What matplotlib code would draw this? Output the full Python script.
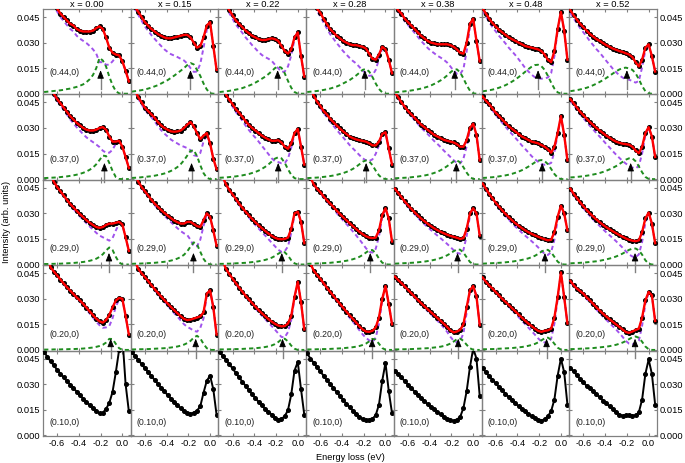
import numpy as np
from matplotlib import pyplot as plt

plt.rcParams['font.family'] = ['Liberation Sans', 'DejaVu Sans']

# energy loss grid (eV)
energy = [-0.72, -0.69, -0.66, -0.63, -0.60, -0.57, -0.54, -0.51, -0.48, -0.45,
          -0.42, -0.39, -0.36, -0.33, -0.30, -0.27, -0.24, -0.21, -0.18, -0.15,
          -0.12, -0.09, -0.06, -0.03, 0.00, 0.03, 0.06]

dopings = ['x = 0.00', 'x = 0.15', 'x = 0.22', 'x = 0.28', 'x = 0.38', 'x = 0.48', 'x = 0.52']
momenta = ['(0.44,0)', '(0.37,0)', '(0.29,0)', '(0.20,0)', '(0.10,0)']

# measured spectra, one list per doping
spec_044 = [
    [0.060, 0.057, 0.054, 0.052, 0.050, 0.047, 0.045, 0.043, 0.041, 0.040, 0.038, 0.037, 0.0365, 0.0365, 0.0365, 0.037, 0.0385, 0.0395, 0.038, 0.033, 0.027, 0.024, 0.023, 0.0225, 0.019, 0.0135, 0.0072],
    [0.056, 0.051, 0.048, 0.045, 0.042, 0.040, 0.038, 0.0365, 0.035, 0.034, 0.033, 0.0325, 0.0325, 0.033, 0.0335, 0.034, 0.0345, 0.0345, 0.033, 0.030, 0.027, 0.028, 0.033, 0.040, 0.042, 0.028, 0.014],
    [0.060, 0.056, 0.052, 0.049, 0.046, 0.043, 0.041, 0.039, 0.037, 0.0355, 0.034, 0.033, 0.032, 0.0315, 0.0315, 0.032, 0.0325, 0.032, 0.031, 0.028, 0.025, 0.0235, 0.026, 0.033, 0.036, 0.022, 0.010],
    [0.064, 0.059, 0.054, 0.050, 0.0475, 0.044, 0.041, 0.038, 0.036, 0.034, 0.0325, 0.031, 0.030, 0.029, 0.0285, 0.0285, 0.028, 0.0275, 0.0265, 0.0235, 0.0205, 0.020, 0.023, 0.0275, 0.026, 0.020, 0.012],
    [0.052, 0.049, 0.047, 0.044, 0.042, 0.040, 0.038, 0.036, 0.034, 0.0325, 0.031, 0.030, 0.0295, 0.029, 0.029, 0.029, 0.029, 0.0285, 0.0275, 0.026, 0.024, 0.0235, 0.030, 0.041, 0.044, 0.031, 0.019],
    [0.050, 0.047, 0.044, 0.0415, 0.0395, 0.0375, 0.036, 0.0345, 0.033, 0.032, 0.031, 0.030, 0.029, 0.028, 0.0275, 0.027, 0.0265, 0.026, 0.025, 0.023, 0.020, 0.0185, 0.025, 0.038, 0.048, 0.037, 0.020],
    [0.049, 0.046, 0.0435, 0.041, 0.039, 0.037, 0.035, 0.0335, 0.032, 0.031, 0.0297, 0.0285, 0.0275, 0.0265, 0.0258, 0.025, 0.0245, 0.0237, 0.023, 0.0215, 0.0185, 0.016, 0.020, 0.027, 0.029, 0.022, 0.013],
]
spec_037 = [
    [0.062, 0.058, 0.054, 0.050, 0.047, 0.0445, 0.042, 0.0395, 0.037, 0.035, 0.033, 0.0315, 0.030, 0.029, 0.0285, 0.0285, 0.029, 0.030, 0.0305, 0.029, 0.025, 0.022, 0.022, 0.0225, 0.019, 0.013, 0.0065],
    [0.056, 0.052, 0.048, 0.045, 0.042, 0.040, 0.038, 0.036, 0.0335, 0.0315, 0.030, 0.029, 0.028, 0.0278, 0.028, 0.0285, 0.030, 0.032, 0.0335, 0.031, 0.027, 0.0235, 0.0255, 0.027, 0.021, 0.012, 0.0058],
    [0.060, 0.055, 0.0495, 0.0465, 0.044, 0.041, 0.039, 0.0365, 0.034, 0.0318, 0.030, 0.0285, 0.027, 0.0255, 0.0243, 0.0233, 0.0225, 0.0225, 0.0228, 0.0215, 0.019, 0.0178, 0.021, 0.027, 0.0295, 0.019, 0.0085],
    [0.058, 0.053, 0.049, 0.0455, 0.043, 0.040, 0.038, 0.0355, 0.0335, 0.0315, 0.0297, 0.028, 0.0265, 0.025, 0.024, 0.0233, 0.0228, 0.0224, 0.022, 0.021, 0.0198, 0.0198, 0.022, 0.0265, 0.0275, 0.018, 0.0085],
    [0.051, 0.048, 0.045, 0.0425, 0.040, 0.038, 0.036, 0.034, 0.032, 0.0305, 0.029, 0.0275, 0.026, 0.025, 0.024, 0.023, 0.0225, 0.022, 0.0215, 0.0205, 0.019, 0.019, 0.023, 0.030, 0.0325, 0.026, 0.011],
    [0.0485, 0.046, 0.044, 0.0415, 0.039, 0.037, 0.035, 0.033, 0.031, 0.0295, 0.028, 0.0265, 0.025, 0.024, 0.023, 0.022, 0.0215, 0.021, 0.020, 0.019, 0.0175, 0.0155, 0.019, 0.027, 0.037, 0.026, 0.011],
    [0.047, 0.0445, 0.042, 0.0395, 0.0375, 0.0355, 0.0335, 0.0318, 0.030, 0.0285, 0.027, 0.0255, 0.0243, 0.023, 0.022, 0.0213, 0.0208, 0.0205, 0.0202, 0.019, 0.0168, 0.0152, 0.019, 0.027, 0.0305, 0.025, 0.013],
]
spec_029 = [
    [0.062, 0.057, 0.053, 0.0485, 0.0455, 0.043, 0.0405, 0.038, 0.0355, 0.0335, 0.0315, 0.0295, 0.0278, 0.026, 0.0245, 0.0232, 0.022, 0.0215, 0.022, 0.0232, 0.024, 0.024, 0.0245, 0.025, 0.0235, 0.016, 0.008],
    [0.057, 0.053, 0.0486, 0.0455, 0.043, 0.0405, 0.038, 0.0358, 0.0338, 0.032, 0.0303, 0.0287, 0.0272, 0.0258, 0.0248, 0.024, 0.024, 0.025, 0.025, 0.0238, 0.0225, 0.022, 0.026, 0.030, 0.028, 0.020, 0.011],
    [0.058, 0.0515, 0.047, 0.0438, 0.0412, 0.0385, 0.0358, 0.0333, 0.031, 0.0288, 0.0268, 0.0248, 0.023, 0.0213, 0.0197, 0.0182, 0.0168, 0.0157, 0.015, 0.0148, 0.015, 0.0158, 0.021, 0.030, 0.031, 0.025, 0.0125],
    [0.056, 0.051, 0.047, 0.0445, 0.0425, 0.040, 0.0378, 0.0358, 0.0338, 0.0317, 0.0297, 0.0278, 0.026, 0.0243, 0.0225, 0.0208, 0.0192, 0.0178, 0.0166, 0.0158, 0.0155, 0.0158, 0.020, 0.029, 0.033, 0.027, 0.0135],
    [0.0445, 0.042, 0.0395, 0.037, 0.0348, 0.0327, 0.0307, 0.0288, 0.027, 0.0255, 0.024, 0.0226, 0.0213, 0.0202, 0.0192, 0.0183, 0.0175, 0.0168, 0.0162, 0.0157, 0.015, 0.0155, 0.021, 0.030, 0.033, 0.030, 0.017],
    [0.0475, 0.0445, 0.0415, 0.0388, 0.0363, 0.034, 0.0318, 0.0297, 0.0278, 0.026, 0.0243, 0.0228, 0.0214, 0.0201, 0.019, 0.018, 0.0171, 0.0163, 0.0155, 0.0148, 0.0142, 0.0145, 0.019, 0.028, 0.0345, 0.030, 0.020],
    [0.0445, 0.0415, 0.039, 0.0365, 0.0342, 0.032, 0.030, 0.0281, 0.0264, 0.0248, 0.0233, 0.0219, 0.0207, 0.0195, 0.0184, 0.0173, 0.0163, 0.0153, 0.0145, 0.014, 0.0137, 0.0142, 0.019, 0.027, 0.0305, 0.024, 0.0125],
]
spec_020 = [
    [0.062, 0.055, 0.0485, 0.046, 0.0437, 0.0413, 0.039, 0.0368, 0.0348, 0.0328, 0.0308, 0.029, 0.027, 0.0248, 0.0226, 0.0204, 0.0183, 0.0168, 0.016, 0.0175, 0.0205, 0.025, 0.029, 0.0305, 0.030, 0.020, 0.009],
    [0.058, 0.052, 0.0475, 0.045, 0.0428, 0.0405, 0.038, 0.0357, 0.0335, 0.0313, 0.0292, 0.0272, 0.0252, 0.0233, 0.0215, 0.0198, 0.0182, 0.0175, 0.0178, 0.0184, 0.019, 0.0197, 0.022, 0.033, 0.035, 0.025, 0.009],
    [0.0575, 0.052, 0.0475, 0.0445, 0.0418, 0.0392, 0.0366, 0.0342, 0.0318, 0.0296, 0.0275, 0.0254, 0.0234, 0.0215, 0.0198, 0.0181, 0.0166, 0.0153, 0.0143, 0.0138, 0.014, 0.0155, 0.020, 0.031, 0.040, 0.028, 0.012],
    [0.056, 0.0505, 0.0465, 0.044, 0.0418, 0.0392, 0.0366, 0.0342, 0.0318, 0.0294, 0.0271, 0.0248, 0.0225, 0.0203, 0.0182, 0.0161, 0.0138, 0.012, 0.0108, 0.0106, 0.0112, 0.0132, 0.019, 0.030, 0.0375, 0.027, 0.015],
    [0.043, 0.041, 0.0392, 0.0373, 0.0353, 0.0333, 0.0314, 0.0294, 0.0275, 0.0257, 0.0239, 0.0222, 0.0205, 0.0188, 0.0171, 0.0154, 0.0135, 0.0114, 0.0103, 0.0108, 0.0118, 0.015, 0.025, 0.035, 0.0375, 0.0315, 0.0145],
    [0.0425, 0.040, 0.0378, 0.036, 0.034, 0.032, 0.030, 0.0282, 0.0264, 0.0245, 0.0227, 0.0208, 0.019, 0.0172, 0.0155, 0.014, 0.0125, 0.0112, 0.0106, 0.0112, 0.0115, 0.0125, 0.019, 0.031, 0.0455, 0.031, 0.0155],
    [0.0405, 0.038, 0.036, 0.0345, 0.033, 0.0308, 0.029, 0.027, 0.025, 0.0231, 0.0213, 0.0196, 0.018, 0.0165, 0.015, 0.0135, 0.012, 0.0105, 0.010, 0.0108, 0.0117, 0.0125, 0.019, 0.029, 0.034, 0.032, 0.017],
]
spec_010 = [
    [0.049, 0.046, 0.0435, 0.041, 0.0385, 0.0362, 0.034, 0.0318, 0.0298, 0.0277, 0.0256, 0.0235, 0.0215, 0.0195, 0.0176, 0.0158, 0.0142, 0.0128, 0.0132, 0.0155, 0.019, 0.0255, 0.037, 0.050, 0.058, 0.030, 0.014],
    [0.049, 0.0465, 0.0442, 0.0418, 0.0394, 0.0371, 0.0348, 0.0325, 0.0302, 0.028, 0.0258, 0.0236, 0.0215, 0.0195, 0.0176, 0.0158, 0.0142, 0.0128, 0.0126, 0.0133, 0.0145, 0.017, 0.025, 0.032, 0.035, 0.027, 0.012],
    [0.049, 0.0465, 0.0443, 0.0418, 0.0392, 0.0366, 0.034, 0.0315, 0.029, 0.0265, 0.0241, 0.0218, 0.0196, 0.0175, 0.0155, 0.0138, 0.0122, 0.0102, 0.0092, 0.0096, 0.0112, 0.0148, 0.024, 0.038, 0.043, 0.027, 0.012],
    [0.048, 0.045, 0.0425, 0.040, 0.0375, 0.035, 0.0325, 0.0302, 0.0278, 0.0254, 0.0231, 0.0208, 0.0186, 0.0165, 0.0145, 0.0127, 0.011, 0.0095, 0.0087, 0.0088, 0.0097, 0.0118, 0.018, 0.032, 0.0425, 0.026, 0.013],
    [0.038, 0.036, 0.034, 0.0318, 0.0297, 0.0277, 0.0257, 0.0238, 0.0219, 0.0201, 0.0184, 0.0168, 0.0152, 0.0137, 0.0123, 0.011, 0.0098, 0.0088, 0.0086, 0.0092, 0.0108, 0.016, 0.026, 0.040, 0.051, 0.045, 0.023],
    [0.0395, 0.037, 0.0348, 0.0326, 0.0305, 0.0284, 0.0264, 0.0244, 0.0225, 0.0206, 0.0188, 0.0171, 0.0155, 0.014, 0.0126, 0.0113, 0.0101, 0.009, 0.0086, 0.0094, 0.0112, 0.0142, 0.021, 0.035, 0.045, 0.037, 0.018],
    [0.0395, 0.0375, 0.0352, 0.033, 0.031, 0.029, 0.0275, 0.0258, 0.024, 0.0222, 0.0204, 0.0187, 0.017, 0.0153, 0.0135, 0.0122, 0.0115, 0.0118, 0.0118, 0.0116, 0.0117, 0.0135, 0.021, 0.036, 0.0445, 0.036, 0.018],
]

# fitted excitation (green dashed) per doping
mode_044 = [
    [0.0010, 0.0012, 0.0014, 0.0016, 0.0018, 0.0020, 0.0023, 0.0027, 0.0030, 0.0035, 0.0040, 0.0047, 0.0055, 0.0068, 0.0085, 0.0110, 0.0150, 0.0210, 0.0195, 0.0160, 0.0100, 0.0050, 0.0015, 0.0002, 0, 0, 0],
    [0.0012, 0.0015, 0.0018, 0.0021, 0.0025, 0.0030, 0.0036, 0.0043, 0.0050, 0.0060, 0.0070, 0.0080, 0.0093, 0.0106, 0.0120, 0.0135, 0.0150, 0.0168, 0.0180, 0.0172, 0.0140, 0.0105, 0.0060, 0.0025, 0.0003, 0, 0],
    [0.0010, 0.0012, 0.0014, 0.0017, 0.0020, 0.0024, 0.0028, 0.0033, 0.0040, 0.0047, 0.0055, 0.0065, 0.0076, 0.0088, 0.0100, 0.0115, 0.0132, 0.0150, 0.0160, 0.0152, 0.0120, 0.0075, 0.0035, 0.0010, 0, 0, 0],
    [0.0010, 0.0012, 0.0014, 0.0016, 0.0019, 0.0022, 0.0026, 0.0030, 0.0036, 0.0042, 0.0050, 0.0060, 0.0070, 0.0080, 0.0093, 0.0107, 0.0123, 0.0140, 0.0145, 0.0130, 0.0098, 0.0060, 0.0028, 0.0008, 0, 0, 0],
    [0.0008, 0.0010, 0.0012, 0.0014, 0.0016, 0.0019, 0.0022, 0.0026, 0.0030, 0.0035, 0.0041, 0.0048, 0.0057, 0.0067, 0.0078, 0.0091, 0.0107, 0.0125, 0.0140, 0.0143, 0.0125, 0.0090, 0.0050, 0.0018, 0.0002, 0, 0],
    [0.0014, 0.0017, 0.0020, 0.0024, 0.0029, 0.0035, 0.0042, 0.0050, 0.0060, 0.0071, 0.0083, 0.0097, 0.0112, 0.0128, 0.0144, 0.0158, 0.0168, 0.0170, 0.0162, 0.0140, 0.0105, 0.0065, 0.0030, 0.0008, 0, 0, 0],
    [0.0015, 0.0018, 0.0021, 0.0025, 0.0030, 0.0035, 0.0042, 0.0050, 0.0059, 0.0069, 0.0080, 0.0092, 0.0105, 0.0118, 0.0131, 0.0142, 0.0150, 0.0153, 0.0148, 0.0140, 0.0120, 0.0085, 0.0045, 0.0015, 0.0002, 0, 0],
]
mode_037 = [
    [0.0006, 0.0007, 0.0008, 0.0009, 0.0010, 0.0012, 0.0014, 0.0016, 0.0019, 0.0022, 0.0026, 0.0031, 0.0037, 0.0045, 0.0055, 0.0068, 0.0087, 0.0112, 0.0138, 0.0135, 0.0095, 0.0048, 0.0012, 0.0001, 0, 0, 0],
    [0.0007, 0.0008, 0.0009, 0.0011, 0.0013, 0.0015, 0.0017, 0.0020, 0.0024, 0.0028, 0.0033, 0.0040, 0.0048, 0.0058, 0.0071, 0.0088, 0.0110, 0.0138, 0.0165, 0.0170, 0.0135, 0.0082, 0.0035, 0.0008, 0, 0, 0],
    [0.0008, 0.0009, 0.0010, 0.0012, 0.0014, 0.0016, 0.0019, 0.0022, 0.0026, 0.0030, 0.0036, 0.0042, 0.0050, 0.0060, 0.0072, 0.0086, 0.0103, 0.0120, 0.0128, 0.0122, 0.0096, 0.0058, 0.0025, 0.0006, 0, 0, 0],
    [0.0006, 0.0007, 0.0008, 0.0009, 0.0011, 0.0013, 0.0015, 0.0018, 0.0021, 0.0025, 0.0030, 0.0035, 0.0042, 0.0050, 0.0060, 0.0072, 0.0087, 0.0102, 0.0110, 0.0104, 0.0082, 0.0050, 0.0022, 0.0005, 0, 0, 0],
    [0.0005, 0.0006, 0.0007, 0.0008, 0.0009, 0.0011, 0.0013, 0.0015, 0.0018, 0.0021, 0.0025, 0.0030, 0.0036, 0.0043, 0.0052, 0.0063, 0.0076, 0.0090, 0.0104, 0.0110, 0.0098, 0.0070, 0.0038, 0.0012, 0.0001, 0, 0],
    [0.0007, 0.0008, 0.0010, 0.0011, 0.0013, 0.0016, 0.0019, 0.0022, 0.0026, 0.0031, 0.0037, 0.0044, 0.0052, 0.0062, 0.0073, 0.0085, 0.0098, 0.0108, 0.0112, 0.0106, 0.0088, 0.0060, 0.0030, 0.0009, 0, 0, 0],
    [0.0010, 0.0011, 0.0013, 0.0015, 0.0017, 0.0020, 0.0023, 0.0027, 0.0031, 0.0036, 0.0042, 0.0049, 0.0057, 0.0066, 0.0076, 0.0088, 0.0101, 0.0114, 0.0122, 0.0122, 0.0105, 0.0075, 0.0040, 0.0013, 0.0001, 0, 0],
]
mode_029 = [
    [0.0003, 0.0003, 0.0004, 0.0004, 0.0005, 0.0005, 0.0006, 0.0007, 0.0008, 0.0009, 0.0011, 0.0013, 0.0015, 0.0018, 0.0022, 0.0027, 0.0034, 0.0045, 0.0060, 0.0082, 0.0100, 0.0085, 0.0045, 0.0012, 0.0001, 0, 0],
    [0.0004, 0.0005, 0.0005, 0.0006, 0.0007, 0.0008, 0.0009, 0.0010, 0.0012, 0.0014, 0.0016, 0.0019, 0.0023, 0.0028, 0.0035, 0.0044, 0.0057, 0.0077, 0.0105, 0.0130, 0.0118, 0.0075, 0.0033, 0.0008, 0, 0, 0],
    [0.0004, 0.0004, 0.0005, 0.0005, 0.0006, 0.0007, 0.0008, 0.0009, 0.0010, 0.0012, 0.0014, 0.0016, 0.0019, 0.0023, 0.0027, 0.0033, 0.0040, 0.0050, 0.0063, 0.0074, 0.0072, 0.0052, 0.0025, 0.0007, 0, 0, 0],
    [0.0004, 0.0005, 0.0005, 0.0006, 0.0007, 0.0008, 0.0009, 0.0010, 0.0012, 0.0014, 0.0016, 0.0019, 0.0022, 0.0026, 0.0031, 0.0037, 0.0045, 0.0056, 0.0070, 0.0083, 0.0085, 0.0066, 0.0035, 0.0011, 0.0001, 0, 0],
    [0.0005, 0.0006, 0.0007, 0.0008, 0.0009, 0.0010, 0.0011, 0.0013, 0.0015, 0.0017, 0.0020, 0.0023, 0.0027, 0.0032, 0.0038, 0.0045, 0.0054, 0.0065, 0.0078, 0.0088, 0.0087, 0.0070, 0.0042, 0.0015, 0.0002, 0, 0],
    [0.0005, 0.0006, 0.0007, 0.0008, 0.0009, 0.0010, 0.0011, 0.0013, 0.0015, 0.0017, 0.0020, 0.0023, 0.0027, 0.0031, 0.0036, 0.0043, 0.0051, 0.0062, 0.0075, 0.0085, 0.0086, 0.0072, 0.0045, 0.0017, 0.0003, 0, 0],
    [0.0007, 0.0008, 0.0009, 0.0010, 0.0011, 0.0013, 0.0015, 0.0017, 0.0019, 0.0022, 0.0026, 0.0030, 0.0035, 0.0040, 0.0047, 0.0055, 0.0064, 0.0075, 0.0086, 0.0093, 0.0094, 0.0083, 0.0058, 0.0025, 0.0005, 0, 0],
]
mode_020 = [
    [0.0002, 0.0002, 0.0002, 0.0003, 0.0003, 0.0003, 0.0004, 0.0004, 0.0005, 0.0005, 0.0006, 0.0007, 0.0008, 0.0010, 0.0012, 0.0014, 0.0018, 0.0023, 0.0030, 0.0043, 0.0065, 0.0064, 0.0035, 0.0010, 0.0001, 0, 0],
    [0.0003, 0.0003, 0.0004, 0.0004, 0.0005, 0.0005, 0.0006, 0.0007, 0.0008, 0.0009, 0.0010, 0.0012, 0.0014, 0.0017, 0.0020, 0.0025, 0.0031, 0.0040, 0.0053, 0.0072, 0.0083, 0.0068, 0.0035, 0.0010, 0, 0, 0],
    [0.0003, 0.0003, 0.0003, 0.0004, 0.0004, 0.0005, 0.0005, 0.0006, 0.0007, 0.0008, 0.0009, 0.0010, 0.0012, 0.0014, 0.0017, 0.0021, 0.0026, 0.0034, 0.0046, 0.0062, 0.0066, 0.0050, 0.0025, 0.0007, 0, 0, 0],
    [0.0003, 0.0003, 0.0003, 0.0004, 0.0004, 0.0005, 0.0005, 0.0006, 0.0007, 0.0008, 0.0009, 0.0010, 0.0012, 0.0014, 0.0016, 0.0019, 0.0023, 0.0029, 0.0037, 0.0050, 0.0065, 0.0060, 0.0036, 0.0011, 0.0001, 0, 0],
    [0.0003, 0.0003, 0.0004, 0.0004, 0.0005, 0.0005, 0.0006, 0.0007, 0.0008, 0.0009, 0.0010, 0.0012, 0.0014, 0.0016, 0.0019, 0.0023, 0.0029, 0.0037, 0.0049, 0.0063, 0.0066, 0.0053, 0.0030, 0.0010, 0.0001, 0, 0],
    [0.0004, 0.0004, 0.0005, 0.0005, 0.0006, 0.0007, 0.0008, 0.0009, 0.0010, 0.0011, 0.0013, 0.0015, 0.0017, 0.0020, 0.0024, 0.0029, 0.0035, 0.0044, 0.0056, 0.0068, 0.0072, 0.0060, 0.0036, 0.0013, 0.0002, 0, 0],
    [0.0005, 0.0005, 0.0006, 0.0007, 0.0008, 0.0009, 0.0010, 0.0011, 0.0013, 0.0015, 0.0017, 0.0019, 0.0022, 0.0026, 0.0030, 0.0036, 0.0043, 0.0052, 0.0063, 0.0074, 0.0079, 0.0071, 0.0048, 0.0020, 0.0004, 0, 0],
]

# arrow (mode energy) positions and arrow tip heights per momentum row
arrow_044 = [-0.20, -0.18, -0.185, -0.19, -0.17, -0.21, -0.20]
arrow_037 = [-0.165, -0.17, -0.18, -0.178, -0.155, -0.172, -0.165]
arrow_029 = [-0.123, -0.153, -0.147, -0.14, -0.144, -0.147, -0.125]
arrow_020 = [-0.107, -0.132, -0.14, -0.123, -0.138, -0.132, -0.125]
arrow_tip = [0.0138, 0.0095, 0.0068, 0.0066]

spectra = [spec_044, spec_037, spec_029, spec_020, spec_010]
modes = [mode_044, mode_037, mode_029, mode_020]
arrows = [arrow_044, arrow_037, arrow_029, arrow_020]
label_y = [0.26, 0.24, 0.20, 0.19, 0.16]

purple = '#a052ec'
green = '#1e8c1e'
dash = (0, (2.2, 1.6))
fs = 6.7

fig, axes = plt.subplots(5, 7, figsize=(6.85, 4.63), dpi=100, sharex=True, sharey=True)
fig.subplots_adjust(left=43/685, right=657/685, top=1-9/463, bottom=1-436/463,
                    wspace=0, hspace=0)

E = np.array(energy)
for i in range(5):
    for j in range(7):
        ax = axes[i, j]
        ax.patch.set_visible(False)
        y = np.array(spectra[i][j])
        if i < 4:
            g = np.array(modes[i][j])
            ax.plot(E, y - g, ls=dash, color=purple, lw=1.4, zorder=2)
            ax.plot(E, g, ls=dash, color=green, lw=1.4, zorder=2)
            ax.plot(E, y, 'o-', color='black', ms=2.6, lw=0.8, zorder=3)
            ax.plot(E, y, color='red', lw=1.7, zorder=4)
            # arrow: gray shaft with black head
            e, tip = arrows[i][j], arrow_tip[i]
            ax.plot([e, e], [tip - 0.0112, tip - 0.003], color='0.5', lw=1.0,
                    clip_on=False, zorder=5)
            ax.annotate('', xy=(e, tip), xytext=(e, tip - 0.0045),
                        arrowprops=dict(arrowstyle='-|>,head_length=0.5,head_width=0.2',
                                        fc='black', ec='black', lw=0.6,
                                        shrinkA=0, shrinkB=0),
                        annotation_clip=False, zorder=6)
        else:
            ax.plot(E, y, 'o-', color='black', ms=2.6, lw=1.4, zorder=3)

        ax.text(0.07, label_y[i], momenta[i], transform=ax.transAxes,
                fontsize=6.3, va='center', color='#222222')

        ax.set_xlim(-0.73, 0.077)
        ax.set_ylim(-0.0004, 0.0497)
        ax.set_xticks([-0.6, -0.4, -0.2, 0.0])
        ax.set_yticks([0.0, 0.015, 0.030, 0.045])
        ax.tick_params(direction='in', top=True, right=True, length=2.5, width=0.8,
                       color='0.5', labelsize=fs, pad=2,
                       labelleft=(j == 0), labelright=(j == 6),
                       labelbottom=(i == 4))
        for s in ax.spines.values():
            s.set_color('0.5')
            s.set_linewidth(0.9)
        if i == 0:
            ax.set_title(dopings[j], fontsize=fs, pad=1.5)

axes[0, 0].yaxis.set_major_formatter(plt.FormatStrFormatter('%.3f'))
axes[0, 0].xaxis.set_major_formatter(plt.FormatStrFormatter('%.1f'))

fig.text(0.010, 1 - 222/463, 'Intensity (arb. units)', rotation=90,
         ha='center', va='center', fontsize=fs)
fig.text(0.511, 1 - 457/463, 'Energy loss (eV)', ha='center', va='center', fontsize=fs)

plt.savefig('out.png', dpi=100)
